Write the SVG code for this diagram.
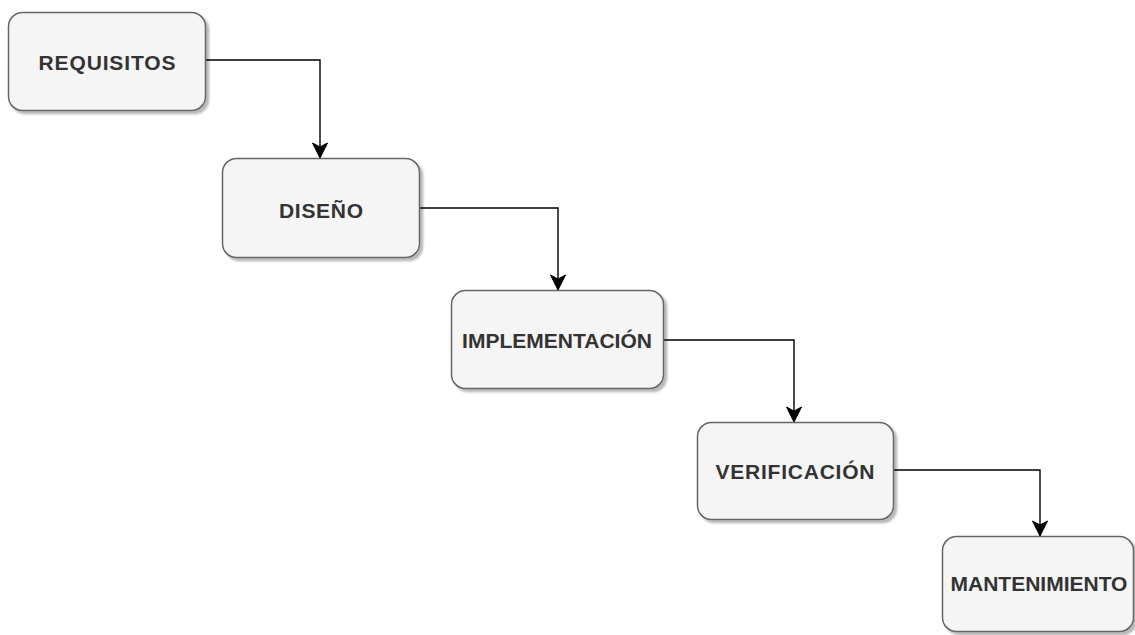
<svg xmlns="http://www.w3.org/2000/svg" width="1135" height="635" viewBox="0 0 1135 635">
  <defs>
    <filter id="sh" x="-10%" y="-10%" width="130%" height="130%">
      <feDropShadow dx="3" dy="3" stdDeviation="1.2" flood-color="#000" flood-opacity="0.28"/>
    </filter>
    <marker id="arr" markerUnits="userSpaceOnUse" markerWidth="20" markerHeight="20" viewBox="-16 -10 18 20" refX="0" refY="0" orient="auto">
      <path d="M0,0 L-15,-7.5 L-11,0 L-15,7.5 Z" fill="#000" stroke="#000" stroke-width="1"/>
    </marker>
    <style>
      .box { fill: #f5f5f5; stroke: #666666; stroke-width: 1.5; filter: url(#sh); }
      .lbl { font-family: "Liberation Sans", Arial, Helvetica, sans-serif; font-weight: bold; font-size: 21px; fill: #333333; text-anchor: middle; }
      .edge { fill: none; stroke: #000; stroke-width: 1.4; marker-end: url(#arr); }
    </style>
  </defs>
  <rect width="1135" height="635" fill="#ffffff"/>
  <g id="connectors">
    <path class="edge" d="M206,60 H320 V158"/>
    <path class="edge" d="M420,208 H558 V290"/>
    <path class="edge" d="M664,340 H794 V422"/>
    <path class="edge" d="M894,470 H1040 V536"/>
  </g>
  <g id="requisitos">
    <rect class="box" x="8.5" y="12.5" width="197" height="98" rx="14"/>
    <text class="lbl" x="107" y="69.5" textLength="137" lengthAdjust="spacing">REQUISITOS</text>
  </g>
  <g id="diseno">
    <rect class="box" x="222.5" y="158.5" width="197" height="99" rx="14"/>
    <text class="lbl" x="321" y="217.5" textLength="84" lengthAdjust="spacing">DISEÑO</text>
  </g>
  <g id="implementacion">
    <rect class="box" x="451.5" y="290.5" width="212" height="98" rx="14"/>
    <text class="lbl" x="557" y="347.5">IMPLEMENTACIÓN</text>
  </g>
  <g id="verificacion">
    <rect class="box" x="697.5" y="422.5" width="196" height="97" rx="14"/>
    <text class="lbl" x="795" y="478.5" textLength="159" lengthAdjust="spacing">VERIFICACIÓN</text>
  </g>
  <g id="mantenimiento">
    <rect class="box" x="942.5" y="536.5" width="191" height="95" rx="14"/>
    <text class="lbl" x="1039" y="590.5">MANTENIMIENTO</text>
  </g>
</svg>
